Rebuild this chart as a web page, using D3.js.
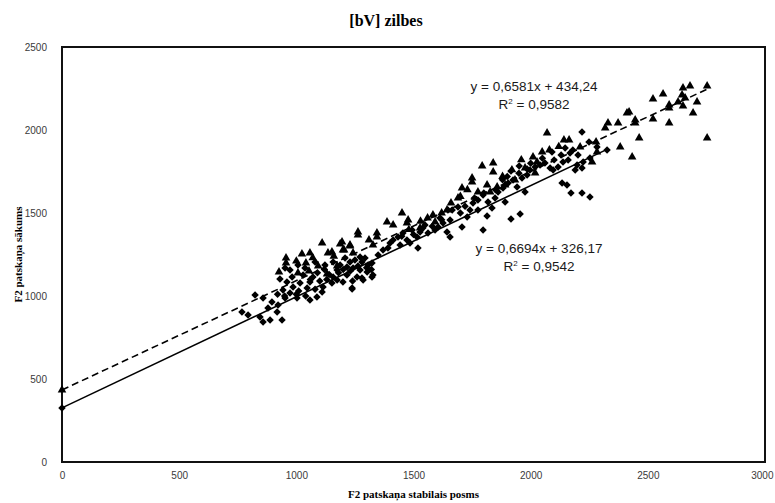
<!DOCTYPE html>
<html>
<head>
<meta charset="utf-8">
<script src="https://cdn.jsdelivr.net/npm/d3@7"></script>
<style>
  body { margin: 0; background: #fff; }
  svg { display: block; }
</style>
</head>
<body>
<div id="chart"></div>
<script>
// ************** Data *****************
const chartTitle = "[bV] zilbes";
const xTitle = "F2 patskaņa stabilais posms";
const yTitle = "F2 patskaņa sākums";
const xTicks = [0, 500, 1000, 1500, 2000, 2500, 3000];
const yTicks = [0, 500, 1000, 1500, 2000, 2500];

// triangle series (dashed trendline)
const triangles = [
  [0, 434],
  [1110, 1319], [1152, 1265], [1199, 1277], [1058, 1259], [1024, 1253],
  [956, 1229], [956, 1199], [1041, 1199], [1093, 1181], [1054, 1151],
  [926, 1145], [1131, 1133], [1174, 1181], [1007, 1139], [1187, 1313],
  [1229, 1301], [1135, 1259], [1242, 1259], [1000, 1210], [1070, 1230],
  [1160, 1240],
  [1263, 1386], [1263, 1367], [1344, 1380], [1344, 1355], [1310, 1337],
  [1327, 1307], [1195, 1325], [1229, 1307], [1204, 1277], [1451, 1500],
  [1387, 1446], [1413, 1428], [1477, 1458], [1583, 1488], [1472, 1440],
  [1528, 1410], [1643, 1518], [1592, 1446], [1480, 1400], [1530, 1450],
  [1560, 1470], [1620, 1500], [1660, 1560], [1700, 1600], [1730, 1640],
  [2070, 1982], [1793, 1783], [1840, 1801], [1840, 1747], [1750, 1711],
  [1750, 1687], [1707, 1651], [1690, 1590], [1814, 1669], [1857, 1657],
  [1775, 1627], [2010, 1837], [2027, 1807], [2049, 1867], [2019, 1741],
  [1976, 1771], [1933, 1699], [1891, 1669], [1827, 1627], [1880, 1720],
  [1920, 1760], [1960, 1820], [2080, 1880], [2120, 1900],
  [2142, 1940], [2164, 1940], [2211, 1898], [2279, 1928], [2318, 2012],
  [2330, 2042], [2373, 2042], [2411, 2102], [2420, 2108], [2446, 2060],
  [2446, 2042], [2463, 1952], [2433, 1837], [2382, 1898], [2283, 1867],
  [2262, 1807], [2522, 2187], [2522, 2066], [2565, 2217], [2591, 2151],
  [2591, 2133], [2591, 2042], [2629, 2169], [2646, 2211], [2650, 2253],
  [2680, 2265], [2659, 2193], [2710, 2169], [2650, 2145], [2693, 2102],
  [2753, 2265], [2753, 1952]
];

// diamond series (solid trendline)
const diamonds = [
  [0, 326],
  [824, 1006], [858, 988], [768, 904], [794, 886], [845, 873],
  [858, 843], [939, 855], [879, 928], [896, 964], [922, 946],
  [952, 988], [973, 1018], [943, 1036], [986, 1054], [1016, 1078],
  [1046, 1048], [1003, 988], [1058, 976], [1088, 994], [1110, 1024],
  [960, 1084], [930, 1102], [982, 1114], [1029, 1126], [1071, 1114],
  [1058, 1084], [1157, 1114], [1174, 1157], [1187, 1187], [1216, 1175],
  [1242, 1169], [1272, 1157], [1302, 1145], [1327, 1126], [1238, 1048],
  [1199, 1084], [1174, 1096], [1259, 1114], [1285, 1096], [1216, 1126],
  [1152, 1078], [1114, 1054], [918, 904], [888, 855],
  [973, 1157], [1007, 1187], [952, 1169], [1037, 1169], [1080, 1205],
  [1122, 1187], [1157, 1205], [1208, 1229], [1250, 1217], [1280, 1205],
  [1306, 1187], [1272, 1235], [1229, 1205], [1293, 1229], [1323, 1199],
  [1263, 1181], [950, 1000], [1000, 1010], [1040, 1000], [1080, 1040],
  [1100, 1090], [1130, 1100], [1240, 1090], [1300, 1170], [1320, 1160],
  [1090, 1140], [1120, 1160], [1140, 1130], [1180, 1140], [1200, 1160],
  [1230, 1150], [1010, 1030], [1060, 1100], [920, 1010],
  [1413, 1337], [1434, 1355], [1455, 1380], [1472, 1337], [1494, 1398],
  [1515, 1355], [1528, 1386], [1549, 1428], [1562, 1380], [1592, 1398],
  [1605, 1416], [1626, 1440], [1643, 1386], [1613, 1470], [1647, 1518],
  [1443, 1307], [1519, 1289], [1485, 1319], [1400, 1319], [1656, 1355],
  [1323, 1114], [1238, 1042], [1280, 1108], [1349, 1247], [1370, 1277],
  [1391, 1289], [1450, 1360], [1500, 1370], [1540, 1410], [1580, 1420],
  [1620, 1460],
  [1665, 1518], [1690, 1536], [1656, 1458], [1707, 1416], [1741, 1518],
  [1754, 1560], [1775, 1578], [1797, 1608], [1818, 1566], [1848, 1590],
  [1861, 1627], [1882, 1651], [1904, 1681], [1925, 1699], [1942, 1657],
  [1963, 1711], [1985, 1729], [1997, 1759], [2019, 1777], [2040, 1789],
  [2061, 1801], [1976, 1627], [1891, 1566], [1814, 1482], [1797, 1398],
  [1916, 1464], [1955, 1494], [1916, 1753], [1951, 1783], [1985, 1765],
  [1775, 1518], [1729, 1476], [1835, 1530], [1700, 1500], [1720, 1540],
  [1760, 1590], [1800, 1620], [1850, 1640], [1880, 1700], [1900, 1720],
  [1950, 1740], [2000, 1800], [2050, 1830],
  [2219, 1988], [2249, 1928], [2283, 1898], [2326, 1880], [2147, 1892],
  [2168, 1861], [2202, 1849], [2138, 1807], [2160, 1819], [2198, 1789],
  [2224, 1807], [2096, 1759], [2117, 1777], [2190, 1759], [2219, 1771],
  [2253, 1831], [2134, 1681], [2155, 1669], [2172, 1620], [2219, 1620],
  [2253, 1596], [2091, 1867], [2083, 1771], [2100, 1820], [2130, 1850],
  [2180, 1880]
];

// trendline coefficients as printed on the chart
const trendTri = { slope: 0.6581, intercept: 434.24, eq: "y = 0,6581x + 434,24", r2: "0,9582" };
const trendDia = { slope: 0.6694, intercept: 326.17, eq: "y = 0,6694x + 326,17", r2: "0,9542" };

// ************** Layout *****************
const width = 775,
  height = 503;
const margin = { top: 47, right: 10, bottom: 41, left: 62 };
const plotW = 765 - margin.left,
  plotH = 462 - margin.top;

const svg = d3
  .select("#chart")
  .append("svg")
  .attr("width", width)
  .attr("height", height);

const g = svg
  .append("g")
  .attr("transform", "translate(" + margin.left + "," + margin.top + ")");

const x = d3.scaleLinear().domain([0, 3000]).range([0, plotW]);
const y = d3.scaleLinear().domain([0, 2500]).range([plotH, 0]);

// axes (labels only, no tick marks)
const xAxis = g
  .append("g")
  .attr("transform", "translate(0," + plotH + ")")
  .call(d3.axisBottom(x).tickValues(xTicks).tickSize(0).tickPadding(10).tickFormat(d3.format("d")));
const yAxis = g
  .append("g")
  .call(d3.axisLeft(y).tickValues(yTicks).tickSize(0).tickPadding(15).tickFormat(d3.format("d")));

[xAxis, yAxis].forEach(a => {
  a.select(".domain").remove();
  a.selectAll("text")
    .style("font-family", "'Liberation Sans Narrow', 'Liberation Sans', sans-serif")
    .style("font-size", "10px")
    .style("fill", "#3a3a3a");
});
// keep the last x label inside the page
xAxis.selectAll("text").filter(d => d === 3000).attr("text-anchor", "end").attr("dx", "0.8em");

// plot border
g.append("rect")
  .attr("width", plotW)
  .attr("height", plotH)
  .attr("fill", "none")
  .attr("stroke", "#111")
  .attr("stroke-width", 2);

// trendlines
const trendLine = (t, xMax, dashed) => {
  g.append("line")
    .attr("x1", x(0))
    .attr("y1", y(t.intercept))
    .attr("x2", x(xMax))
    .attr("y2", y(t.slope * xMax + t.intercept))
    .attr("stroke", "#000")
    .attr("stroke-width", 1.6)
    .attr("stroke-dasharray", dashed ? "7,4" : null);
};
trendLine(trendTri, d3.max(triangles, d => d[0]), true);
trendLine(trendDia, d3.max(diamonds, d => d[0]), false);

// markers
const triSym = d3.symbol().type(d3.symbolTriangle).size(32);
const diaSym = d3.symbol().type(d3.symbolSquare).size(28);

g.selectAll("path.tri")
  .data(triangles)
  .enter()
  .append("path")
  .attr("class", "tri")
  .attr("d", triSym)
  .attr("transform", d => "translate(" + x(d[0]) + "," + y(d[1]) + ")")
  .attr("fill", "#000");

g.selectAll("path.dia")
  .data(diamonds)
  .enter()
  .append("path")
  .attr("class", "dia")
  .attr("d", diaSym)
  .attr("transform", d => "translate(" + x(d[0]) + "," + y(d[1]) + ") rotate(45)")
  .attr("fill", "#000");

// trendline equations
const eqFont = "'Liberation Sans', Arial, sans-serif";
const eqLabel = (t, cx, cy) => {
  g.append("text")
    .attr("x", cx)
    .attr("y", cy)
    .attr("text-anchor", "middle")
    .style("font-family", eqFont)
    .style("font-size", "13.5px")
    .style("fill", "#1a1a1a")
    .text(t.eq);
  const r = g
    .append("text")
    .attr("x", cx)
    .attr("y", cy + 18)
    .attr("text-anchor", "middle")
    .style("font-family", eqFont)
    .style("font-size", "13.5px")
    .style("fill", "#1a1a1a");
  r.append("tspan").text("R");
  r.append("tspan").attr("dy", -5).style("font-size", "8px").text("2");
  r.append("tspan").attr("dy", 5).text(" = " + t.r2);
};
eqLabel(trendTri, 534 - margin.left, 91 - margin.top);
eqLabel(trendDia, 539 - margin.left, 253 - margin.top);

// titles
svg.append("text")
  .attr("x", 386)
  .attr("y", 26)
  .attr("text-anchor", "middle")
  .style("font-family", "'Liberation Serif', 'Times New Roman', serif")
  .style("font-weight", "bold")
  .style("font-size", "16px")
  .text(chartTitle);

svg.append("text")
  .attr("x", margin.left + plotW / 2)
  .attr("y", 498)
  .attr("text-anchor", "middle")
  .style("font-family", "'Liberation Serif', 'Times New Roman', serif")
  .style("font-weight", "bold")
  .style("font-size", "11px")
  .text(xTitle);

svg.append("text")
  .attr("transform", "translate(22," + (margin.top + plotH / 2) + ") rotate(-90)")
  .attr("text-anchor", "middle")
  .style("font-family", "'Liberation Serif', 'Times New Roman', serif")
  .style("font-weight", "bold")
  .style("font-size", "11px")
  .text(yTitle);
</script>
</body>
</html>
